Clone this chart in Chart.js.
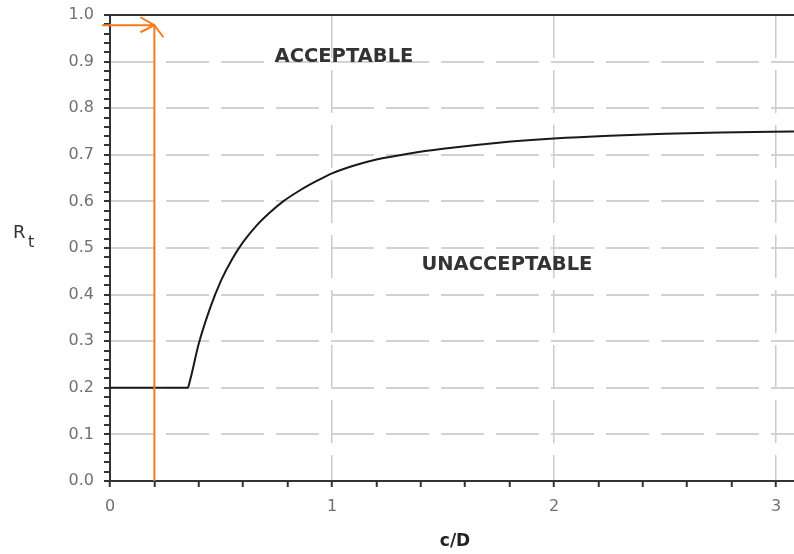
<!DOCTYPE html>
<html>
<head>
<meta charset="utf-8">
<script src="https://cdn.jsdelivr.net/npm/chart.js@4/dist/chart.umd.min.js"></script>
<style>
    html, body { margin: 0; padding: 0; background: #fff; }
    #wrap { width: 794px; height: 554px; position: relative; }
</style>
</head>
<body>
<div id="wrap"><canvas id="chart"></canvas></div>
<script>
// Rt curve (c/D -> Rt)
const cdValues = [0, 0.35, 0.36, 0.40, 0.45, 0.50, 0.55, 0.60, 0.66, 0.72, 0.78, 0.86, 0.94, 1.0, 1.1, 1.2, 1.35, 1.5, 1.75, 2.0, 2.25, 2.5, 2.75, 3.09];
const rtValues = [0.2, 0.2, 0.215, 0.295, 0.37, 0.43, 0.476, 0.513, 0.548, 0.576, 0.60, 0.625, 0.646, 0.66, 0.677, 0.69, 0.703, 0.713, 0.726, 0.735, 0.741, 0.745, 0.748, 0.75];

// orange marker arrow
const arrowCd = 0.2;
const arrowRt = 0.978;
const arrowStartCd = -0.036;

// region labels
const regionLabels = ["ACCEPTABLE", "UNACCEPTABLE"];
const regionCd = [1.054, 1.788];
const regionRt = [0.91, 0.4635];

const xMax = 3.081;
const xLabels = [0, 1, 2, 3];
const yLabels = [0, 0.1, 0.2, 0.3, 0.4, 0.5, 0.6, 0.7, 0.8, 0.9, 1.0];

const isWhole = (v) => Math.abs(v - Math.round(v)) < 1e-6;
const isTenth = (v) => Math.abs(v * 10 - Math.round(v * 10)) < 1e-6;

const extras = {
    id: "extras",
    afterDatasetsDraw(chart) {
        const ctx = chart.ctx;
        const xs = chart.scales.x;
        const ys = chart.scales.y;

        // top frame line
        ctx.save();
        ctx.strokeStyle = "#333";
        ctx.lineWidth = 2;
        ctx.beginPath();
        ctx.moveTo(xs.left, ys.getPixelForValue(1));
        ctx.lineTo(xs.right, ys.getPixelForValue(1));
        ctx.stroke();

        // orange arrow
        const ax = xs.getPixelForValue(arrowCd);
        const ay = ys.getPixelForValue(arrowRt);
        ctx.strokeStyle = "#f5791f";
        ctx.lineWidth = 2;
        ctx.beginPath();
        ctx.moveTo(ax, ys.getPixelForValue(0));
        ctx.lineTo(ax, ay);
        ctx.moveTo(xs.getPixelForValue(arrowStartCd), ay);
        ctx.lineTo(ax, ay);
        // heads
        ctx.moveTo(ax - 14, ay - 8);
        ctx.lineTo(ax, ay);
        ctx.lineTo(ax - 14, ay + 7);
        ctx.moveTo(ax + 9, ay + 12);
        ctx.lineTo(ax, ay);
        ctx.stroke();

        // region text
        ctx.fillStyle = "#333";
        ctx.font = "bold 19.5px 'DejaVu Sans'";
        ctx.textAlign = "center";
        ctx.textBaseline = "middle";
        regionLabels.forEach((t, i) => {
            ctx.fillText(t, xs.getPixelForValue(regionCd[i]), ys.getPixelForValue(regionRt[i]));
        });

        // axis titles
        ctx.font = "bold 17px 'DejaVu Sans'";
        ctx.fillStyle = "#222";
        ctx.fillText("c/D", (xs.left + xs.right) / 2 + 3, 542);

        ctx.textAlign = "left";
        ctx.textBaseline = "alphabetic";
        ctx.fillStyle = "#333";
        ctx.font = "18px 'DejaVu Sans'";
        ctx.fillText("R", 13, 238);
        ctx.font = "16px 'DejaVu Sans'";
        ctx.fillText("t", 28, 247);
        ctx.restore();
    },
};

const ctx = document.getElementById("chart").getContext("2d");
const chart = new Chart(ctx, {
    type: "line",
    data: {
        datasets: [
            {
                label: "Rt",
                data: cdValues.map((x, i) => ({ x: x, y: rtValues[i] })),
                borderColor: "#1a1a1a",
                borderWidth: 2,
                pointRadius: 0,
                cubicInterpolationMode: "monotone",
                fill: false,
            },
        ],
    },
    options: {
        responsive: true,
        maintainAspectRatio: false,
        animation: false,
        layout: {
            padding: { top: 15, right: 0, bottom: 0, left: 0 },
        },
        plugins: {
            legend: { display: false },
            tooltip: { enabled: false },
        },
        scales: {
            x: {
                type: "linear",
                min: 0,
                max: xMax,
                afterFit: (scale) => {
                    scale.height = 73;
                    scale.paddingLeft = 0;
                    scale.paddingRight = 0;
                },
                ticks: {
                    stepSize: 0.2,
                    includeBounds: false,
                    autoSkip: false,
                    maxRotation: 0,
                    padding: 10,
                    color: "#707070",
                    font: { family: "'DejaVu Sans'", size: 16 },
                    callback: (v) => (xLabels.some((l) => Math.abs(l - v) < 1e-6) ? String(Math.round(v)) : ""),
                },
                grid: {
                    color: (c) => (c.tick && isWhole(c.tick.value) && c.tick.value > 0 ? "#cccccc" : "transparent"),
                    lineWidth: 1.5,
                    tickColor: "#333",
                    tickLength: 6,
                    tickWidth: 2,
                },
                border: {
                    color: "#333",
                    width: 2,
                    dash: [43, 12],
                },
            },
            y: {
                type: "linear",
                min: 0,
                max: 1,
                afterFit: (scale) => {
                    scale.width = 110;
                    scale.paddingTop = 0;
                    scale.paddingBottom = 0;
                },
                ticks: {
                    stepSize: 0.02,
                    autoSkip: false,
                    padding: 10,
                    color: "#707070",
                    font: { family: "'DejaVu Sans'", size: 16 },
                    callback: (v) => (yLabels.some((l) => Math.abs(l - v) < 1e-6) ? v.toFixed(1) : ""),
                },
                grid: {
                    color: (c) => (c.tick && isTenth(c.tick.value) && c.tick.value > 0.05 && c.tick.value < 0.95 ? "#d2d2d2" : "transparent"),
                    lineWidth: 2,
                    tickColor: "#333",
                    tickLength: 6,
                    tickWidth: 2,
                },
                border: {
                    color: "#333",
                    width: 2,
                    dash: [43, 12],
                },
            },
        },
    },
    plugins: [extras],
});
</script>
</body>
</html>
